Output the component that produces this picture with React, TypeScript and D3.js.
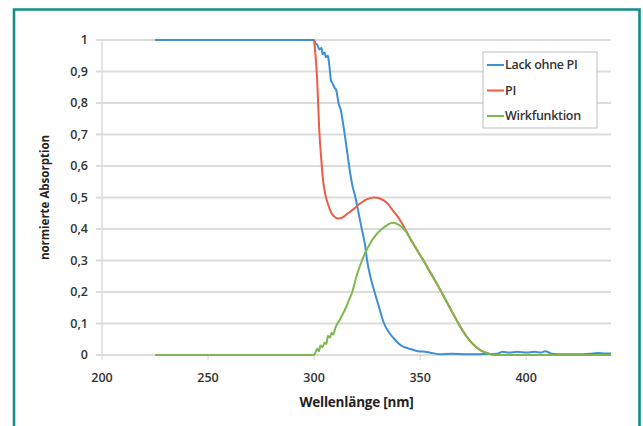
import React from 'react'
import * as d3 from 'd3'

// Lack ohne PI
const lackNm = [225, 300, 300.5, 301.5, 302.5, 303.5, 304, 305, 305.5, 306.5, 307, 307.5, 308, 308.5, 309.5, 310.5, 311.5, 312.5, 314, 315.5, 316.5, 318, 319.5, 321, 322.5, 324, 325, 326.5, 328.5, 330.5, 333, 335.5, 338, 341, 345, 349, 352.5, 356, 359, 365, 372, 380, 386, 389, 392, 396, 400, 404, 407, 409, 412, 418, 425, 430, 434, 437, 440]
const lackVal = [1, 1, 0.99, 0.985, 0.97, 0.975, 0.955, 0.96, 0.945, 0.95, 0.93, 0.9, 0.87, 0.865, 0.85, 0.84, 0.8, 0.78, 0.72, 0.65, 0.6, 0.54, 0.5, 0.45, 0.4, 0.35, 0.3, 0.25, 0.2, 0.155, 0.1, 0.07, 0.05, 0.03, 0.02, 0.012, 0.01, 0.006, 0.002, 0.004, 0.002, 0.003, 0.004, 0.01, 0.008, 0.01, 0.008, 0.01, 0.008, 0.012, 0.004, 0.002, 0.002, 0.004, 0.006, 0.005, 0.005]

// PI
const piNm = [300, 300.7, 301.4, 302.4, 303.4, 304.3, 305.3, 306.5, 308.2, 310, 311.5, 313.5, 316, 318, 321.5, 325, 328.5, 331, 333, 335, 337, 339, 341, 343.5, 346, 349, 352, 355, 358, 361, 364, 367, 370, 373, 376, 379, 382, 385, 388, 400, 440]
const piVal = [1, 0.95, 0.88, 0.72, 0.62, 0.55, 0.51, 0.48, 0.45, 0.437, 0.433, 0.437, 0.45, 0.46, 0.48, 0.495, 0.5, 0.497, 0.49, 0.478, 0.46, 0.443, 0.423, 0.393, 0.362, 0.328, 0.295, 0.26, 0.225, 0.188, 0.15, 0.113, 0.078, 0.049, 0.028, 0.013, 0.005, 0.001, 0, 0, 0]

// Wirkfunktion
const wirkNm = [225, 300, 300.8, 301.5, 302.3, 303, 304, 305, 305.8, 306.5, 307.5, 308.2, 309, 310, 311, 312, 313.5, 315, 316.5, 318, 320, 322.6, 324.5, 326.5, 329, 332, 335, 337.1, 340, 343, 346, 349, 352, 355, 358, 361, 364, 367, 370, 373, 376, 379, 382, 385, 388, 400, 440]
const wirkVal = [0, 0, 0.01, 0.02, 0.012, 0.03, 0.025, 0.04, 0.035, 0.06, 0.055, 0.07, 0.065, 0.085, 0.1, 0.11, 0.13, 0.15, 0.175, 0.2, 0.25, 0.3, 0.33, 0.355, 0.38, 0.4, 0.415, 0.42, 0.413, 0.395, 0.362, 0.328, 0.295, 0.26, 0.225, 0.188, 0.15, 0.113, 0.078, 0.049, 0.028, 0.013, 0.005, 0.001, 0, 0, 0]

const xTicks = [200, 250, 300, 350, 400]
const yTicks = [0, 0.1, 0.2, 0.3, 0.4, 0.5, 0.6, 0.7, 0.8, 0.9, 1]
const seriesNames = ['Lack ohne PI', 'PI', 'Wirkfunktion']
const seriesColors = ['#3d8fd6', '#ef5b45', '#7cb84e']

const font = '"Open Sans", "Noto Sans", sans-serif'

export default function App() {
  const left = 102, right = 611, top = 40, bottom = 355
  const x = d3.scaleLinear().domain([200, 440]).range([left, right])
  const y = d3.scaleLinear().domain([0, 1]).range([bottom, top])
  const line = d3.line<[number, number]>().x(d => x(d[0])).y(d => y(d[1])).curve(d3.curveMonotoneX)
  const series = [
    lackNm.map((n, i) => [n, lackVal[i]] as [number, number]),
    piNm.map((n, i) => [n, piVal[i]] as [number, number]),
    wirkNm.map((n, i) => [n, wirkVal[i]] as [number, number]),
  ]
  const fmt = (v: number) => d3.format('.1~f')(v).replace('.', ',')

  return (
    <svg width={643} height={426} style={{ position: 'absolute', left: 0, top: 0, background: '#fff' }} fontFamily={font}>
      <rect x={0} y={0} width={643} height={426} fill="#fff" />
      <path d="M14,430 V9.5 H639.5 V430" fill="none" stroke="#138d88" strokeWidth={2.6} />
      {yTicks.map(t => (
        <g key={t}>
          <line x1={left - 6} x2={right} y1={y(t)} y2={y(t)} stroke="#dcdcdc" strokeWidth={2} />
          <text x={left - 14} y={y(t)} dy="0.35em" textAnchor="end" fontSize={12.5} fontWeight={600} fill="#333">{fmt(t)}</text>
        </g>
      ))}
      <line x1={left} x2={left} y1={top} y2={bottom} stroke="#dcdcdc" strokeWidth={1.5} />
      {xTicks.map(t => (
        <g key={t}>
          <line x1={x(t)} x2={x(t)} y1={bottom} y2={bottom + 5} stroke="#d0d0d0" strokeWidth={1} />
          <text x={x(t)} y={bottom + 27} textAnchor="middle" fontSize={12.5} fontWeight={600} fill="#333">{t}</text>
        </g>
      ))}
      <text x={(left + right) / 2} y={407} textAnchor="middle" fontSize={13.5} fontWeight={700} fill="#222" letterSpacing={-0.2}>Wellenlänge [nm]</text>
      <text transform={`translate(49,${(top + bottom) / 2}) rotate(-90)`} textAnchor="middle" fontSize={11.5} fontWeight={700} fill="#222">normierte Absorption</text>
      {series.map((s, i) => (
        <path key={i} d={line(s) || ''} fill="none" stroke={seriesColors[i]} strokeWidth={2} strokeLinejoin="round" />
      ))}
      <g transform="translate(483,52)">
        <rect x={0} y={0} width={114} height={76} fill="#fff" stroke="#bdbdbd" strokeWidth={1} />
        {seriesNames.map((n, i) => (
          <g key={n} transform={`translate(0,${13 + i * 25.5})`}>
            <line x1={4} x2={21} y1={0} y2={0} stroke={seriesColors[i]} strokeWidth={2} />
            <text x={22} y={0} dy="0.35em" fontSize={12.5} fontWeight={600} fill="#333" letterSpacing={-0.3}>{n}</text>
          </g>
        ))}
      </g>
    </svg>
  )
}
